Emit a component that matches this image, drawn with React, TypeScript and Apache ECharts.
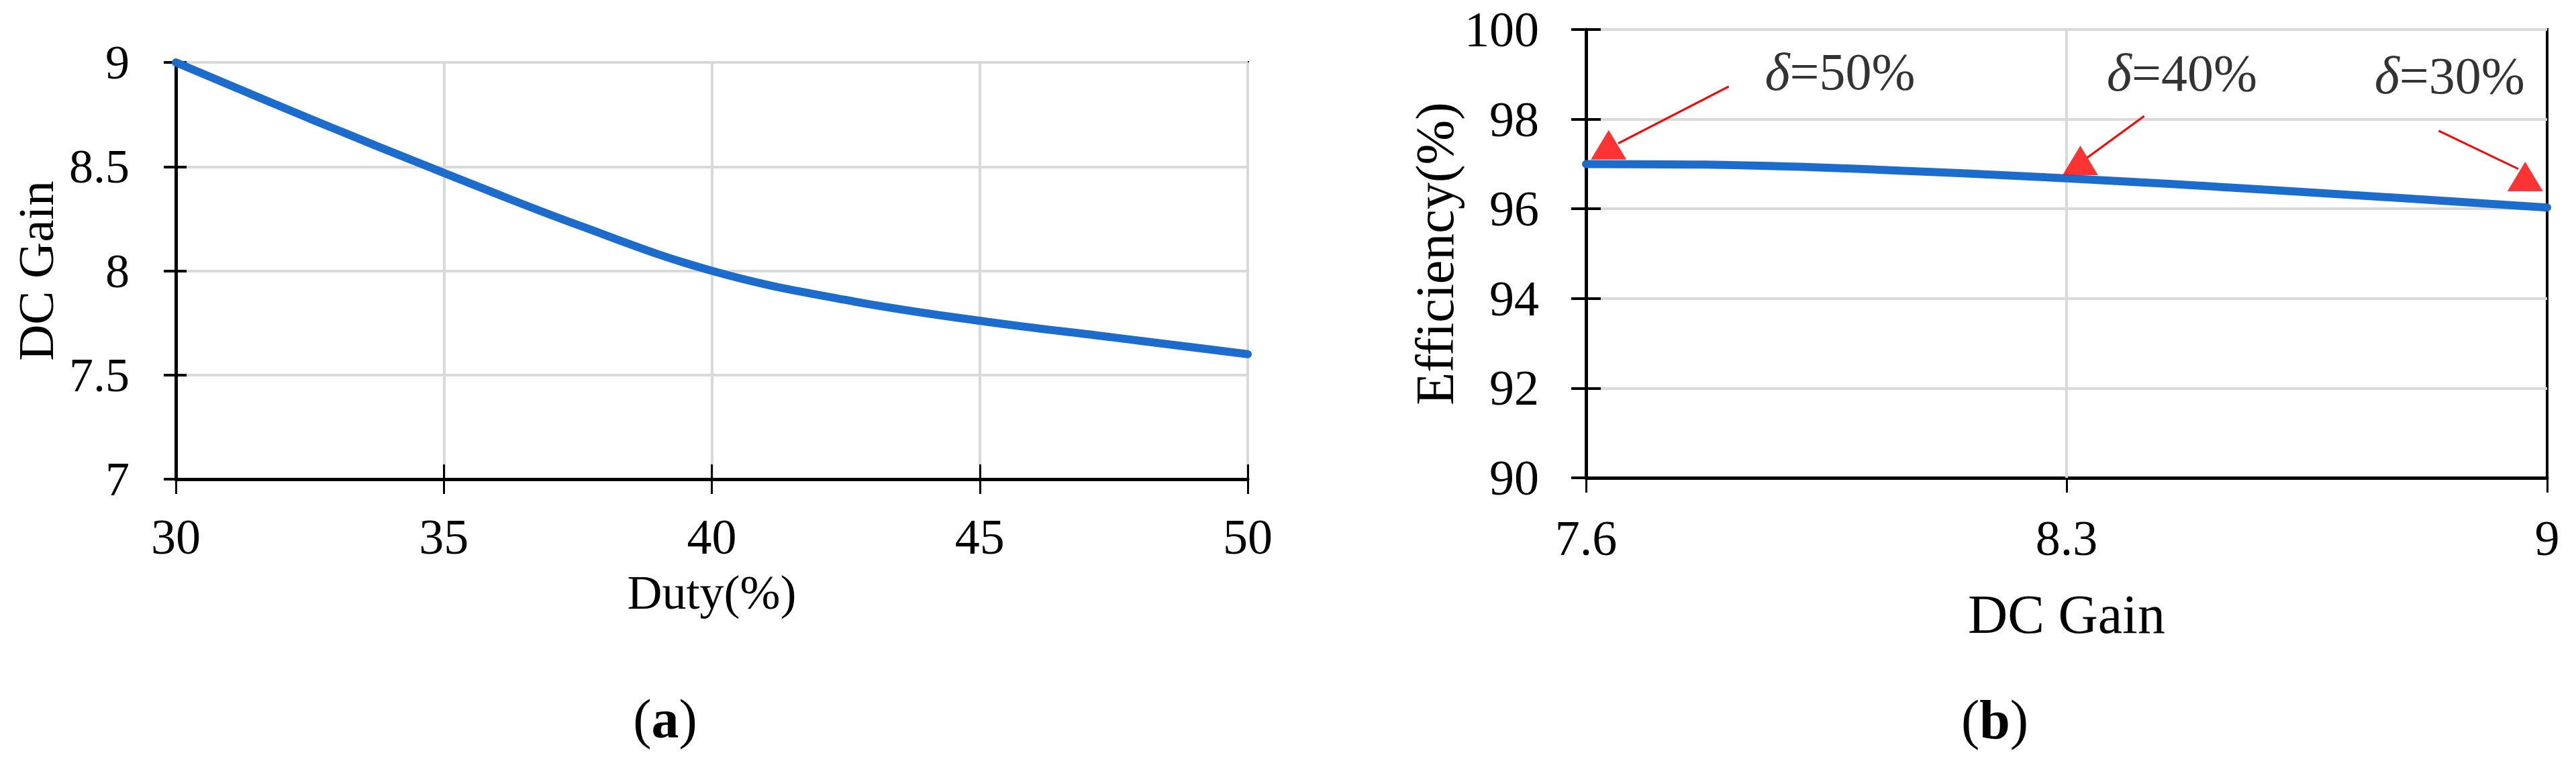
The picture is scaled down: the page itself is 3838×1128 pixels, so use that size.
import React, { useEffect, useRef } from "react";
import * as echarts from "echarts";

// ---- data (a): DC gain vs duty ----
const dutyPct = [30, 32.5, 35, 37.5, 40, 42.5, 45, 47.5, 50];
const dcGainA = [9.0, 8.73, 8.47, 8.22, 8.0, 7.86, 7.76, 7.68, 7.6];

// ---- data (b): efficiency vs DC gain ----
const dcGainB = [7.6, 7.8, 8.0, 8.3, 8.6, 9.0];
const efficiency = [97.0, 96.98, 96.89, 96.68, 96.42, 96.03];
const gainTicks = [7.6, 8.3, 9];

// ---- annotations (b), in data units ----
const annLabels = ["50%", "40%", "30%"];
const annTextPos = [
  [7.97, 99.06],
  [8.468, 99.04],
  [8.858, 98.98],
];
const arrowStart = [
  [7.808, 98.73],
  [8.413, 98.07],
  [8.842, 97.74],
];
const arrowEnd = [
  [7.647, 97.46],
  [8.33, 97.14],
  [8.958, 96.89],
];
const arrowHead = [
  [7.633, 97.43],
  [8.32, 97.08],
  [8.968, 96.72],
];

const FONT = "'Liberation Serif', 'Times New Roman', serif";
const BLUE = "#1b6ccc";
const GRID_GRAY = "#d9d9d9";

export default function App() {
  const ref = useRef<HTMLDivElement>(null);

  useEffect(() => {
    document.body.style.margin = "0";
    if (!ref.current) return;
    const chart = echarts.init(ref.current, undefined, { renderer: "svg" });

    const tickLabel = (size: number, margin: number) => ({
      show: true,
      fontFamily: FONT,
      fontSize: size,
      color: "#000",
      margin,
    });

    const option: any = {
      animation: false,
      backgroundColor: "#fff",
      grid: [
        { left: 262, top: 93, width: 1597, height: 621, show: true, borderColor: "#000", borderWidth: 4, backgroundColor: "transparent" },
        { left: 2363, top: 44, width: 1432, height: 668, show: true, borderColor: "#000", borderWidth: 4, backgroundColor: "transparent" },
      ],
      xAxis: [
        {
          gridIndex: 0, type: "value", min: 30, max: 50, interval: 5, position: "bottom",
          name: "Duty(%)", nameLocation: "middle", nameGap: 133,
          nameTextStyle: { fontFamily: FONT, fontSize: 72, color: "#000" },
          axisLine: { show: true, onZero: false, lineStyle: { color: "#000", width: 5 } },
          axisTick: { show: true, inside: false, length: 22, lineStyle: { color: "#000", width: 3 } },
          axisLabel: tickLabel(74, 49),
          splitLine: { show: true, lineStyle: { color: GRID_GRAY, width: 4 } },
        },
        {
          gridIndex: 0, type: "value", min: 30, max: 50, interval: 5, position: "bottom",
          axisLine: { show: false, onZero: false },
          axisTick: { show: true, inside: true, length: 22, lineStyle: { color: "#000", width: 3 } },
          axisLabel: { show: false },
          splitLine: { show: false },
        },
        {
          gridIndex: 1, type: "value", min: 7.6, max: 9, position: "bottom",
          name: "DC Gain", nameLocation: "middle", nameGap: 162,
          nameTextStyle: { fontFamily: FONT, fontSize: 82, color: "#000" },
          axisLine: { show: true, onZero: false, lineStyle: { color: "#000", width: 5 } },
          axisTick: { show: true, inside: false, length: 22, customValues: gainTicks, lineStyle: { color: "#000", width: 3 } },
          axisLabel: { ...tickLabel(74, 53), customValues: gainTicks },
          splitLine: { show: false },
        },
        {
          gridIndex: 1, type: "value", min: 7.6, max: 9, position: "bottom",
          axisLine: { show: false, onZero: false },
          axisTick: { show: true, inside: true, length: 22, customValues: gainTicks, lineStyle: { color: "#000", width: 3 } },
          axisLabel: { show: false, customValues: gainTicks },
          splitLine: { show: false },
        },
      ],
      yAxis: [
        {
          gridIndex: 0, type: "value", min: 7, max: 9, interval: 0.5, position: "left",
          name: "DC Gain", nameLocation: "middle", nameGap: 171, nameRotate: 90,
          nameTextStyle: { fontFamily: FONT, fontSize: 75, color: "#000" },
          axisLine: { show: true, onZero: false, lineStyle: { color: "#000", width: 5 } },
          axisTick: { show: true, inside: false, length: 18, lineStyle: { color: "#000", width: 4 } },
          axisLabel: tickLabel(72, 69),
          splitLine: { show: true, lineStyle: { color: GRID_GRAY, width: 4 } },
        },
        {
          gridIndex: 0, type: "value", min: 7, max: 9, interval: 0.5, position: "left",
          axisLine: { show: false, onZero: false },
          axisTick: { show: true, inside: true, length: 16, lineStyle: { color: "#000", width: 4 } },
          axisLabel: { show: false },
          splitLine: { show: false },
        },
        {
          gridIndex: 1, type: "value", min: 90, max: 100, interval: 2, position: "left",
          name: "Efficiency(%)", nameLocation: "middle", nameGap: 185, nameRotate: 90,
          nameTextStyle: { fontFamily: FONT, fontSize: 80, color: "#000" },
          axisLine: { show: true, onZero: false, lineStyle: { color: "#000", width: 5 } },
          axisTick: { show: true, inside: false, length: 22, lineStyle: { color: "#000", width: 4 } },
          axisLabel: tickLabel(74, 70),
          splitLine: { show: true, lineStyle: { color: GRID_GRAY, width: 4 } },
        },
        {
          gridIndex: 1, type: "value", min: 90, max: 100, interval: 2, position: "left",
          axisLine: { show: false, onZero: false },
          axisTick: { show: true, inside: true, length: 22, lineStyle: { color: "#000", width: 4 } },
          axisLabel: { show: false },
          splitLine: { show: false },
        },
      ],
      series: [
        {
          type: "line",
          xAxisIndex: 0,
          yAxisIndex: 0,
          data: dutyPct.map((d, i) => [d, dcGainA[i]]),
          smooth: 0.4,
          symbol: "none",
          lineStyle: { color: BLUE, width: 12, cap: "round" },
          z: 5,
        },
        // vertical gridline at the middle custom tick of (b)
        {
          type: "line",
          xAxisIndex: 2,
          yAxisIndex: 2,
          data: [],
          markLine: {
            silent: true,
            symbol: ["none", "none"],
            label: { show: false },
            lineStyle: { color: GRID_GRAY, width: 4, type: "solid" },
            data: [{ xAxis: gainTicks[1] }],
          },
          z: 1,
        },
        {
          type: "line",
          xAxisIndex: 2,
          yAxisIndex: 2,
          data: dcGainB.map((g, i) => [g, efficiency[i]]),
          smooth: 0.4,
          symbol: "none",
          lineStyle: { color: BLUE, width: 12, cap: "round" },
          z: 5,
          markLine: {
            silent: true,
            symbol: ["none", "none"],
            label: { show: false },
            lineStyle: { color: "#ff0000", width: 3, type: "solid" },
            data: arrowStart.map((s, i) => [{ coord: s }, { coord: arrowEnd[i] }]),
          },
        },
        {
          type: "scatter",
          xAxisIndex: 2,
          yAxisIndex: 2,
          symbol: "triangle",
          symbolSize: [53, 44],
          itemStyle: { color: "#ff0000" },
          data: arrowHead,
          z: 6,
        },
        {
          type: "scatter",
          xAxisIndex: 2,
          yAxisIndex: 2,
          symbolSize: 1,
          itemStyle: { color: "rgba(0,0,0,0)" },
          data: annTextPos.map((p, i) => [p[0], p[1], annLabels[i]]),
          label: {
            show: true,
            position: "inside",
            color: "#000",
            formatter: (p: any) => "{i|δ}{n|=" + p.value[2] + "}",
            rich: {
              i: { fontFamily: FONT, fontSize: 80, fontStyle: "italic", color: "#000" },
              n: { fontFamily: FONT, fontSize: 78, color: "#000" },
            },
          },
          z: 7,
        },
      ],
      graphic: [
        {
          type: "text",
          x: 991,
          y: 1071,
          style: {
            text: "{p|(}{b|a}{p|)}",
            align: "center",
            verticalAlign: "middle",
            rich: {
              p: { fontFamily: FONT, fontSize: 82, color: "#000" },
              b: { fontFamily: FONT, fontSize: 82, fontWeight: "bold", color: "#000" },
            },
          },
        },
        {
          type: "text",
          x: 2972,
          y: 1072,
          style: {
            text: "{p|(}{b|b}{p|)}",
            align: "center",
            verticalAlign: "middle",
            rich: {
              p: { fontFamily: FONT, fontSize: 82, color: "#000" },
              b: { fontFamily: FONT, fontSize: 82, fontWeight: "bold", color: "#000" },
            },
          },
        },
      ],
    };

    chart.setOption(option);
    return () => chart.dispose();
  }, []);

  return <div ref={ref} style={{ width: 3838, height: 1128 }} />;
}
